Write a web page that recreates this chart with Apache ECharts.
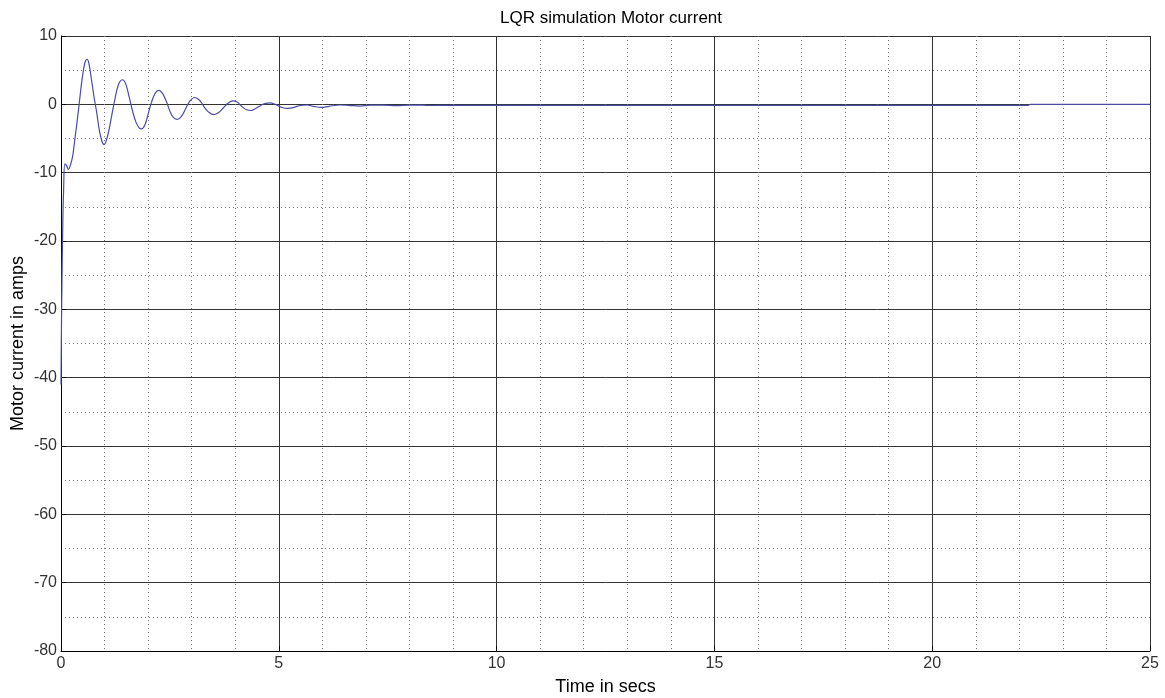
<!DOCTYPE html>
<html>
<head>
<meta charset="utf-8">
<script src="https://cdn.jsdelivr.net/npm/echarts@6/dist/echarts.min.js"></script>
<style>
  html, body { margin: 0; padding: 0; background: #fff; }
  #chart { width: 1165px; height: 698px; }
</style>
</head>
<body>
<div id="chart"></div>
<script>
// Motor current response of the LQR-controlled system
const timeSecs = [
  0, 0.01, 0.02, 0.04, 0.06, 0.09, 0.13, 0.17, 0.22, 0.27, 0.32, 0.37, 0.42, 0.47, 0.52, 0.56, 0.6, 0.64,
  0.7, 0.76, 0.82, 0.88, 0.94, 0.99, 1.04, 1.1, 1.16, 1.22, 1.28, 1.34, 1.41, 1.48, 1.56, 1.64, 1.72,
  1.79, 1.85, 1.92, 1.98, 2.04, 2.11, 2.18, 2.25, 2.33, 2.42, 2.5, 2.58, 2.67, 2.76, 2.85, 2.95, 3.07,
  3.18, 3.29, 3.4, 3.51, 3.62, 3.73, 3.84, 3.94, 4.05, 4.15, 4.26, 4.37, 4.47, 4.58, 4.7, 4.8, 4.92,
  5.05, 5.2, 5.35, 5.5, 5.65, 5.8, 5.98, 6.15, 6.4, 6.6, 6.86, 7.1, 7.4, 7.7, 8.0, 8.3, 8.5, 8.8,
  10, 15, 20, 22.2, 22.25, 25
];
const currentAmps = [
  -41, -33, -27, -18, -12.5, -8.7, -9.0, -9.5, -8.8, -7.5, -5, -2.5, 0.2, 3, 5.2, 6.3, 6.6, 6.0,
  3.6, 1.0, -1.2, -3.8, -5.4, -5.9, -5.3, -3.8, -1.8, 0.2, 2.0, 3.2, 3.6, 3.1, 1.2, -0.9, -2.6,
  -3.4, -3.6, -3.1, -1.9, -0.5, 0.9, 1.8, 2.05, 1.6, 0.4, -1.0, -1.9, -2.2, -1.8, -0.8, 0.4, 1.0,
  0.6, -0.4, -1.2, -1.5, -1.2, -0.5, 0.2, 0.5, 0.3, -0.3, -0.8, -0.9, -0.6, -0.2, 0.15, 0.2, 0.0,
  -0.4, -0.6, -0.45, -0.15, -0.1, -0.3, -0.45, -0.3, -0.1, -0.15, -0.25, -0.12, -0.12, -0.2, -0.12, -0.12, -0.17, -0.15,
  -0.15, -0.15, -0.15, -0.15, 0, 0
];
const xTicks = [0, 5, 10, 15, 20, 25];
const yTicks = [-80, -70, -60, -50, -40, -30, -20, -10, 0, 10];

const points = timeSecs.map((t, i) => [t, currentAmps[i]]);

const font = 'Liberation Sans, Arial, sans-serif';
const chart = echarts.init(document.getElementById('chart'), null, { renderer: 'canvas' });

chart.setOption({
  animation: false,
  backgroundColor: '#ffffff',
  title: {
    text: 'LQR simulation Motor current',
    left: 606, top: 5, textAlign: 'center',
    textStyle: { fontFamily: font, fontSize: 17, fontWeight: 'normal', color: '#000' }
  },
  grid: {
    left: 61, right: 15, top: 36, bottom: 47,
    containLabel: false, outerBoundsMode: 'none', show: false
  },
  xAxis: {
    type: 'value',
    min: xTicks[0], max: xTicks[xTicks.length - 1], interval: 5,
    name: 'Time in secs', nameLocation: 'middle', nameGap: 27,
    nameTextStyle: { fontFamily: font, fontSize: 18, color: '#000' },
    axisLine: { show: true, onZero: false, lineStyle: { color: '#000', width: 1 } },
    axisTick: { show: true, inside: true, length: 5, lineStyle: { color: '#000' } },
    axisLabel: { fontFamily: font, fontSize: 16, color: '#333', margin: 5 },
    splitLine: { show: true, lineStyle: { color: '#333', width: 1, type: 'solid' } },
    minorTick: { show: false, splitNumber: 5 },
    minorSplitLine: { show: true, lineStyle: { color: '#777', width: 1, type: [1, 3] } }
  },
  yAxis: {
    type: 'value',
    min: yTicks[0], max: yTicks[yTicks.length - 1], interval: 10,
    name: 'Motor current in amps', nameLocation: 'middle', nameGap: 34, nameRotate: 90,
    nameMoveOverlap: false,
    nameTextStyle: { fontFamily: font, fontSize: 18, color: '#000' },
    axisLine: { show: true, onZero: false, lineStyle: { color: '#000', width: 1 } },
    axisTick: { show: true, inside: true, length: 5, lineStyle: { color: '#000' } },
    axisLabel: { fontFamily: font, fontSize: 16, color: '#333', margin: 4 },
    splitLine: { show: true, lineStyle: { color: '#333', width: 1, type: 'solid' } },
    minorTick: { show: false, splitNumber: 2 },
    minorSplitLine: { show: true, lineStyle: { color: '#777', width: 1, type: [1, 3] } }
  },
  series: [{
    name: 'Motor current',
    type: 'line',
    data: points,
    smooth: 0.4,
    showSymbol: false,
    lineStyle: { color: '#4b4ba6', width: 1.2 },
    z: 3
  }]
});
</script>
</body>
</html>
